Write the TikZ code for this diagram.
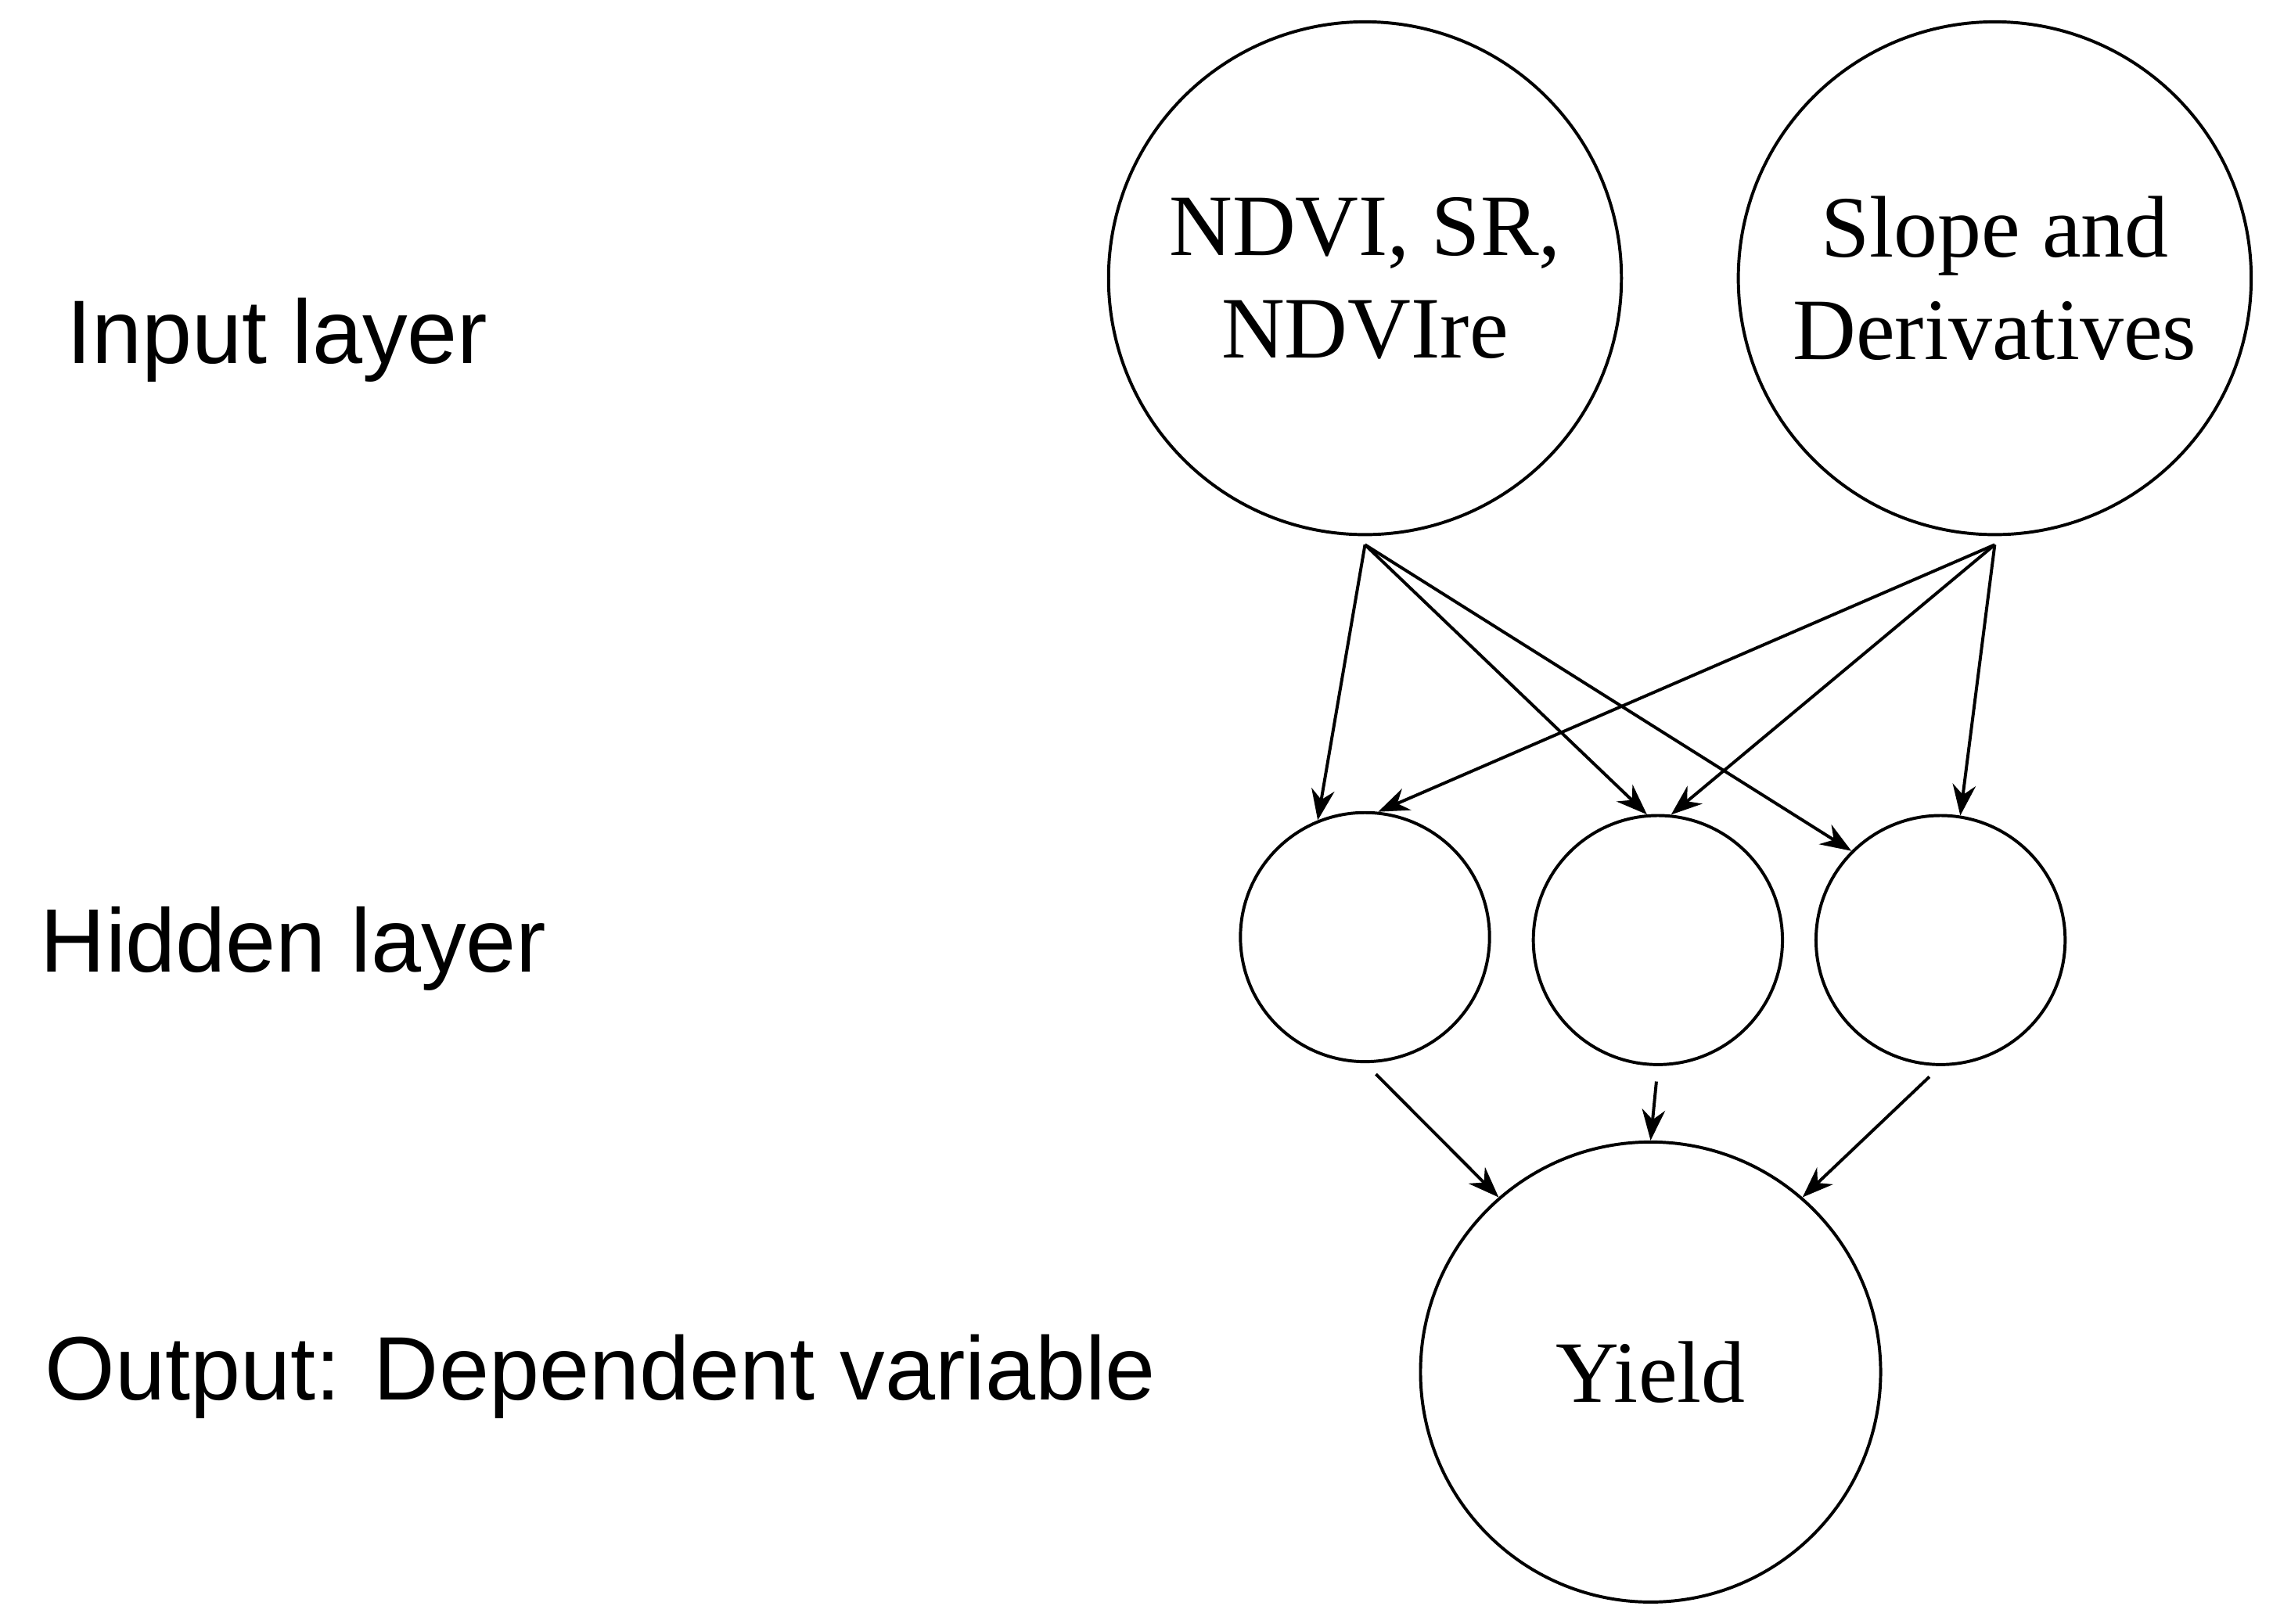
\documentclass[tikz,border=0pt]{standalone}
\usepackage{fontspec}
\setmainfont{Liberation Serif}
\newfontfamily\lsans{Liberation Sans}
\usetikzlibrary{arrows.meta}
\begin{document}
\begin{tikzpicture}[x=0.01cm,y=-0.01cm,
  big/.style={draw,circle,line width=0.6pt,inner sep=0pt,align=center,font=\fontsize{17}{20}\selectfont},
  lbl/.style={anchor=west,inner sep=0pt,font=\lsans\fontsize{17.5}{20}\selectfont},
  arr/.style={line width=0.6pt,-{Stealth[length=6pt,width=4.5pt]}}]
\useasboundingbox (0,0) rectangle (1552,1109);
\node[big,minimum size=3.5cm] (i1) at (932,190) {NDVI, SR,\\NDVIre};
\node[big,minimum size=3.5cm] (i2) at (1362,190) {Slope and\\Derivatives};
\node[big,minimum size=1.7cm] (h1) at (932,640) {};
\node[big,minimum size=1.7cm] (h2) at (1132,642) {};
\node[big,minimum size=1.7cm] (h3) at (1325,642) {};
\node[big,minimum size=3.14cm] (y) at (1127,937) {Yield};
\coordinate (a1) at (932,372);
\coordinate (a2) at (1362,372);
\node[lbl] (l1) at (45,232) {Input layer};
\node[lbl] (l2) at (27,648) {Hidden layer};
\node[lbl] (l3) at (30,940) {Output: Dependent variable};
\draw[arr] (a1) -- (h1.112);
\draw[arr] (a1) -- (h2.95);
\draw[arr] (a1) -- (h3.135);
\draw[arr] (a2) -- (h1.84);
\draw[arr] (a2) -- (h2.84);
\draw[arr] (a2) -- (h3.81);
\draw[arr,shorten <=3pt] (h1.south) -- (y.131);
\draw[arr,shorten <=3pt] (h2.south) -- (y.90);
\draw[arr,shorten <=3pt] (h3.south) -- (y.49);
\end{tikzpicture}
\end{document}
